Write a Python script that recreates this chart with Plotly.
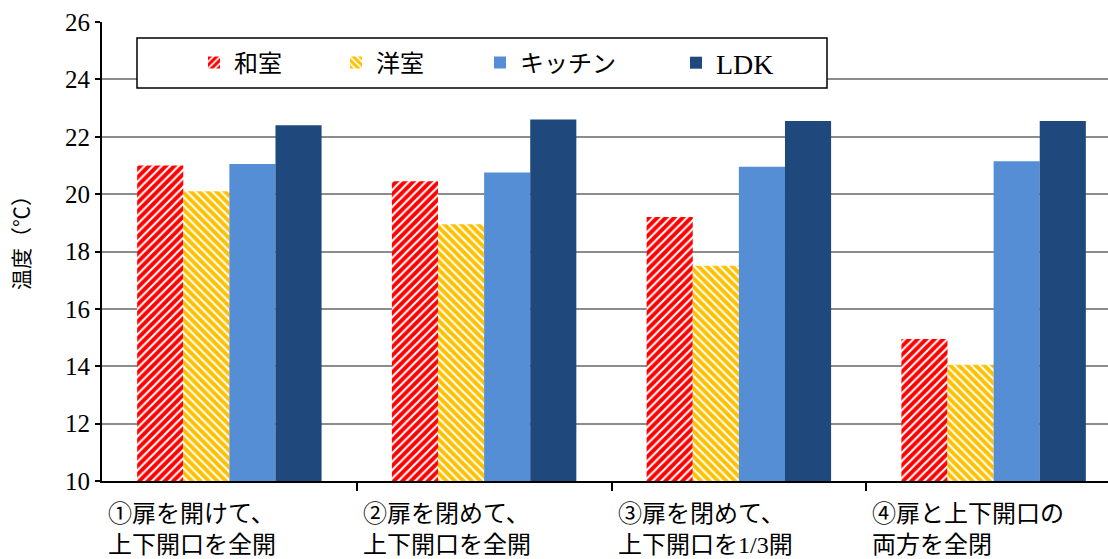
import plotly.graph_objects as go

# Temperatures per room for each door / opening condition
conditions = ["①扉を開けて、<br>上下開口を全開",
              "②扉を閉めて、<br>上下開口を全開",
              "③扉を閉めて、<br>上下開口を1/3開",
              "④扉と上下開口の<br>両方を全閉"]
rooms = ["和室", "洋室", "キッチン", "LDK"]
washitsu = [21.0, 20.45, 19.2, 14.95]
youshitsu = [20.1, 18.95, 17.5, 14.05]
kitchen = [21.05, 20.75, 20.95, 21.15]
ldk = [22.4, 22.6, 22.55, 22.55]
y_ticks = [10, 12, 14, 16, 18, 20, 22, 24, 26]
y_title = "温度（℃）"

FONT = "Liberation Serif, Noto Sans CJK JP, serif"
W, H = 1108, 559
ML, MR, MT, MB = 102, 0, 22, 78

series = [washitsu, youshitsu, kitchen, ldk]
colors = ["#FF0000", "#FFC000", "#558ED5", "#1F497D"]
patterns = ["/", "\\", "", ""]
legend_ids = ["legend", "legend2", "legend3", "legend4"]
legend_px = [194, 336, 480, 676]
legend_font = [24, 24, 24, 28]

pw = W - ML - MR
ph = H - MT - MB
def px_x(px):
    return (px - ML) / pw
def px_y(py):
    return (H - MB - py) / ph

x_idx = list(range(len(conditions)))
fig = go.Figure()
for name, vals, col, pat, lid in zip(rooms, series, colors, patterns, legend_ids):
    marker = dict(color=col, line=dict(width=0))
    if pat:
        marker["pattern"] = dict(shape=pat, fgcolor="white", bgcolor=col,
                                 size=6, solidity=0.35, fillmode="replace")
    fig.add_trace(go.Bar(x=x_idx, y=vals, name=name, marker=marker, legend=lid))

# one legend box per room so entries sit at fixed spacing
legend_style = {}
for lid, lx, fs in zip(legend_ids, legend_px, legend_font):
    legend_style[lid] = dict(orientation="h", x=px_x(lx), y=px_y(63),
                             xanchor="left", yanchor="middle",
                             bgcolor="rgba(0,0,0,0)", borderwidth=0,
                             font=dict(family=FONT, size=fs, color="black"),
                             itemwidth=30)

# two-line condition labels, left aligned in each category slot
annotations = []
for i, lab in enumerate(conditions):
    annotations.append(dict(x=i - 0.5, y=0, xref="x", yref="paper",
                            xanchor="left", yanchor="top", xshift=4, yshift=-18,
                            text=lab, align="left", showarrow=False,
                            font=dict(family=FONT, size=24, color="black")))
# vertical axis title
annotations.append(dict(x=px_x(22), y=px_y(238), xref="paper", yref="paper",
                        xanchor="center", yanchor="middle", textangle=-90,
                        text=y_title, showarrow=False,
                        font=dict(family=FONT, size=21, color="black")))

fig.update_layout(
    width=W, height=H,
    margin=dict(l=ML, r=MR, t=MT, b=MB, autoexpand=False),
    paper_bgcolor="white", plot_bgcolor="white",
    barmode="group", bargap=0.276, bargroupgap=0,
    font=dict(family=FONT, size=22, color="black"),
    showlegend=True,
    shapes=[dict(type="rect", xref="paper", yref="paper",
                 x0=px_x(137), x1=px_x(827), y0=px_y(88), y1=px_y(38),
                 line=dict(color="black", width=1.5), fillcolor="white", layer="above")],
    annotations=annotations,
    xaxis=dict(range=[-0.5, 3.449], tickmode="array", tickvals=[0.5, 1.5, 2.5, 3.5],
               ticktext=["", "", "", ""], showticklabels=False,
               ticks="outside", ticklen=8, tickwidth=1.5, tickcolor="black",
               showline=True, linecolor="black", linewidth=2, showgrid=False,
               zeroline=False, fixedrange=True),
    yaxis=dict(range=[10, 26], tickvals=y_ticks, ticks="outside", ticklen=5,
               tickwidth=1.5, tickcolor="black", showline=True, linecolor="black",
               linewidth=2, showgrid=True, gridcolor="#8c8c8c", gridwidth=1.5,
               zeroline=False, tickfont=dict(family=FONT, size=25)),
    **legend_style,
)

fig.write_html("out.html")
